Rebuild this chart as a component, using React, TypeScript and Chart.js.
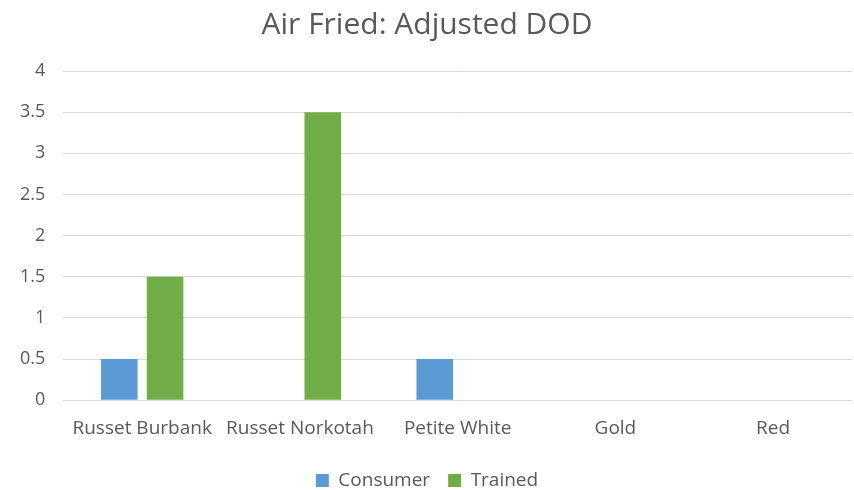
import React, { useEffect, useRef } from "react";
import { Chart, registerables } from "chart.js";

Chart.register(...registerables);

const categories = ["Russet Burbank", "Russet Norkotah", "Petite White", "Gold", "Red"];
const consumerValues = [0.5, 0, 0.5, 0, 0];
const trainedValues = [1.5, 3.5, 0, 0, 0];
const titleText = "Air Fried: Adjusted DOD";

export default function App() {
  const ref = useRef<HTMLCanvasElement | null>(null);
  useEffect(() => {
    document.body.style.margin = "0";
    if (!ref.current) return;
    const font = "'Open Sans', 'Noto Sans', sans-serif";
    const chart = new Chart(ref.current, {
      type: "bar",
      data: {
        labels: categories,
        datasets: [
          { label: "Consumer", data: consumerValues, backgroundColor: "#5b9bd5", categoryPercentage: 0.58, barPercentage: 0.8 },
          { label: "Trained", data: trainedValues, backgroundColor: "#70ad47", categoryPercentage: 0.58, barPercentage: 0.8 },
        ],
      },
      options: {
        animation: false,
        responsive: false,
        maintainAspectRatio: false,
        layout: { padding: { left: 2, right: 2, top: 7, bottom: -10 } },
        plugins: {
          title: {
            display: true,
            text: titleText,
            color: "#595959",
            font: { family: font, size: 30, weight: "normal" },
            padding: { top: 0, bottom: 28 },
          },
          legend: {
            position: "bottom",
            labels: {
              color: "#595959",
              font: { family: font, size: 19 },
              boxWidth: 13,
              boxHeight: 13,
              padding: 18,
            },
          },
          tooltip: { enabled: false },
        },
        scales: {
          x: {
            grid: { display: false },
            border: { display: false },
            ticks: { color: "#595959", font: { family: font, size: 19 }, padding: 9, maxRotation: 0 },
            afterFit: (scale: any) => {
              scale.height += 4;
            },
          },
          y: {
            min: 0,
            max: 4,
            ticks: {
              stepSize: 0.5,
              color: "#595959",
              font: { family: font, size: 18 },
              padding: 18,
              callback: (v: any) => String(Number(v)),
            },
            grid: { color: "#d9d9d9", lineWidth: 1, drawTicks: false },
            border: { display: false },
          },
        },
      },
    });
    return () => chart.destroy();
  }, []);
  return (
    <div style={{ width: 854, height: 490 }}>
      <canvas ref={ref} width={854} height={490} style={{ display: "block" }} />
    </div>
  );
}
